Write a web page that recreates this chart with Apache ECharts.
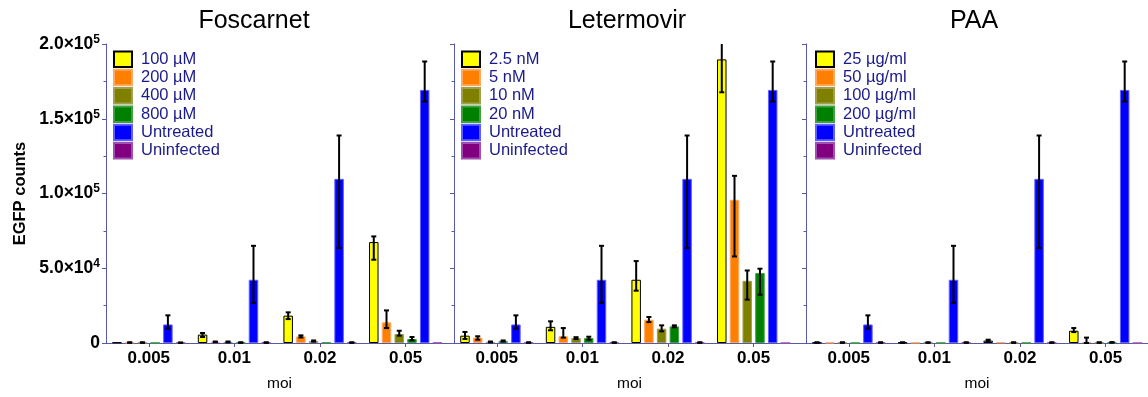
<!DOCTYPE html>
<html><head><meta charset="utf-8">
<script src="https://cdn.jsdelivr.net/npm/echarts@6/dist/echarts.min.js"></script>
<style>html,body{margin:0;padding:0;background:#fff}#c{width:1148px;height:397px}</style>
</head><body><div id="c"></div>
<script>
// ---------------- DATA ----------------
const categories = ['0.005', '0.01', '0.02', '0.05'];
const panelTitles = ['Foscarnet', 'Letermovir', 'PAA'];
const fosNames = ['100 µM', '200 µM', '400 µM', '800 µM', 'Untreated', 'Uninfected'];
const letNames = ['2.5 nM', '5 nM', '10 nM', '20 nM', 'Untreated', 'Uninfected'];
const paaNames = ['25 µg/ml', '50 µg/ml', '100 µg/ml', '200 µg/ml', 'Untreated', 'Uninfected'];

// Untreated control (shared by all panels)
const untreatedMean = [12400, 42300, 109800, 169300];
const untreatedLow  = [9600, 26700, 63500, 161500];
const untreatedHigh = [18500, 65000, 138800, 188300];

// Foscarnet: rows = 100, 200, 400, 800 µM, Untreated, Uninfected
const fosMean = [
  [400, 5600, 18300, 67500],
  [300, 800, 4400, 13800],
  [300, 700, 1300, 6000],
  [200, 300, 400, 2700],
  untreatedMean,
  [200, 300, 300, 200]
];
const fosLow = [
  [400, 4000, 16000, 55700],
  [100, 600, 3700, 10000],
  [100, 400, 900, 4900],
  [200, 100, 400, 1800],
  untreatedLow,
  [0, 100, 100, 200]
];
const fosHigh = [
  [400, 6700, 20500, 71300],
  [500, 1000, 5100, 21800],
  [500, 1000, 1700, 8200],
  [200, 500, 400, 4000],
  untreatedHigh,
  [400, 500, 500, 200]
];

// Letermovir: rows = 2.5, 5, 10, 20 nM, Untreated, Uninfected
const letMean = [
  [4900, 10800, 42300, 189700],
  [3600, 4500, 15600, 95800],
  [700, 3300, 9600, 41600],
  [1300, 3300, 11100, 46800],
  untreatedMean,
  [300, 300, 300, 0]
];
const letLow = [
  [2700, 8500, 35000, 167700],
  [2200, 3600, 14000, 57900],
  [400, 2700, 7800, 29000],
  [900, 2200, 10500, 32300],
  untreatedLow,
  [100, 100, 100, 0]
];
const letHigh = [
  [7400, 14500, 54800, 212000],
  [4500, 10000, 17400, 111800],
  [1000, 3900, 11800, 48500],
  [1700, 4200, 11800, 49700],
  untreatedHigh,
  [500, 500, 500, 0]
];

// PAA: rows = 25, 50, 100, 200 µg/ml, Untreated, Uninfected
const paaMean = [
  [300, 300, 1600, 8200],
  [200, 200, 400, 700],
  [300, 300, 300, 300],
  [100, 200, 200, 400],
  untreatedMean,
  [300, 300, 300, 0]
];
const paaLow = [
  [100, 100, 1000, 7300],
  [200, 200, 400, 0],
  [100, 100, 100, 100],
  [100, 200, 200, 200],
  untreatedLow,
  [100, 100, 100, 0]
];
const paaHigh = [
  [500, 500, 2200, 10000],
  [200, 200, 400, 3600],
  [500, 500, 500, 500],
  [100, 200, 200, 600],
  untreatedHigh,
  [500, 500, 500, 0]
];

const yTicks = [0, 50000, 100000, 150000, 200000];

// ---------------- STYLE / LAYOUT ----------------
const FF = "'Liberation Sans', Arial, Helvetica, sans-serif";
const colors  = ['#ffff00', '#ff8000', '#808000', '#008000', '#0000ff', '#800080'];
const borders = ['#000000', '#ffa860', '#a0a050', '#40a040', '#6060ff', '#a050b0'];
const AXIS_COLOR = '#5858a8';
const BW = 9.5, GAP = 0.34, STEP = BW * (1 + GAP);
const UNIT = 85.6;
const TOP = 44, H = 299.5, YMAX = yTicks[yTicks.length - 1];
const gridPos = [{left: 106, width: 347}, {left: 454, width: 351}, {left: 806, width: 342}];
const legendLeft = [113, 461, 815];
const titleX = [254, 627, 974];

const panels = [
  {names: fosNames, mean: fosMean, low: fosLow, high: fosHigh},
  {names: letNames, mean: letMean, low: letLow, high: letHigh},
  {names: paaNames, mean: paaMean, low: paaLow, high: paaHigh}
];

function errRender(params, api) {
  const x = api.value(0), lo = api.value(1), hiRaw = api.value(2), s = api.value(3);
  const hi = Math.min(hiRaw, YMAX);
  const off = (s - 2.5) * STEP;
  const pLo = api.coord([x, lo]);
  const pHi = api.coord([x, hi]);
  const cx = pLo[0] + off;
  const st = {stroke: '#000', lineWidth: 2};
  const kids = [
    {type: 'line', shape: {x1: cx, y1: pLo[1], x2: cx, y2: pHi[1]}, style: st},
    {type: 'line', shape: {x1: cx - 2.5, y1: pLo[1], x2: cx + 2.5, y2: pLo[1]}, style: st}
  ];
  if (hiRaw <= YMAX) kids.push({type: 'line', shape: {x1: cx - 2.5, y1: pHi[1], x2: cx + 2.5, y2: pHi[1]}, style: st});
  return {type: 'group', children: kids};
}

const grid = [], xAxis = [], yAxis = [], series = [], legend = [], title = [];
const tickVals = categories.map((c, i) => i + 0.5);

panels.forEach((p, pi) => {
  const g = gridPos[pi];
  grid.push({left: g.left, top: TOP, width: g.width, height: H, containLabel: false});
  xAxis.push({
    type: 'value', gridIndex: pi, min: 0, max: g.width / UNIT,
    axisLine: {show: true, onZero: false, lineStyle: {color: AXIS_COLOR, width: 1}},
    axisTick: {show: true, customValues: tickVals, length: 4, inside: false, lineStyle: {color: AXIS_COLOR}},
    axisLabel: {show: true, customValues: tickVals, margin: 7,
      formatter: v => categories[Math.round(v - 0.5)] || '',
      fontSize: 17, fontWeight: 'bold', color: '#000', fontFamily: FF},
    splitLine: {show: false},
    name: 'moi', nameLocation: 'middle', nameGap: 33,
    nameTextStyle: {fontSize: 15.5, color: '#000', fontFamily: FF}
  });
  yAxis.push({
    type: 'value', gridIndex: pi, min: yTicks[0], max: YMAX, interval: yTicks[1] - yTicks[0],
    axisLine: {show: true, lineStyle: {color: AXIS_COLOR, width: 1}},
    axisTick: {show: true, length: 4, inside: false, lineStyle: {color: AXIS_COLOR}},
    minorTick: {show: true, splitNumber: 2, length: 2.5, lineStyle: {color: AXIS_COLOR}},
    splitLine: {show: false}, minorSplitLine: {show: false},
    axisLabel: {show: pi === 0, margin: 6,
      formatter: v => {
        if (v === 0) return '{m|0}';
        const e = Math.floor(Math.log10(v));
        const m = v / Math.pow(10, e);
        return '{m|' + m.toFixed(1) + '×10}{s|' + e + '}';
      },
      rich: {
        m: {fontSize: 17.5, fontWeight: 'bold', color: '#000', fontFamily: FF},
        s: {fontSize: 12, fontWeight: 'bold', color: '#000', fontFamily: FF, padding: [0, 0, 9, 0]}
      }
    },
    name: pi === 0 ? 'EGFP counts' : '', nameLocation: 'middle', nameGap: 77,
    nameTextStyle: {fontSize: 16.5, fontWeight: 'bold', color: '#000', fontFamily: FF}
  });
  p.names.forEach((name, si) => {
    series.push({
      type: 'bar', name: name, xAxisIndex: pi, yAxisIndex: pi,
      barWidth: BW, barGap: (GAP * 100) + '%',
      itemStyle: {color: colors[si], borderColor: borders[si], borderWidth: 1},
      data: p.mean[si].map((v, ci) => [ci + 0.5, v])
    });
  });
  const errData = [];
  p.mean.forEach((row, si) => row.forEach((v, ci) => {
    if (p.high[si][ci] > p.low[si][ci]) errData.push([ci + 0.5, p.low[si][ci], p.high[si][ci], si]);
  }));
  series.push({type: 'custom', xAxisIndex: pi, yAxisIndex: pi, renderItem: errRender,
    data: errData, encode: {x: 0, y: [1, 2]}, z: 5, silent: true});
  legend.push({
    data: p.names, orient: 'vertical', left: legendLeft[pi], top: 50.5, padding: 0,
    itemWidth: 18, itemHeight: 15.5, itemGap: 0.8, icon: 'rect', selectedMode: false,
    textStyle: {fontSize: 16.5, color: '#1a1a8a', fontFamily: FF, lineHeight: 16, padding: [0, 0, 0, 4]}
  });
  title.push({text: panelTitles[pi], left: titleX[pi], top: 9, textAlign: 'center', padding: 0,
    textStyle: {fontSize: 25, fontWeight: 'normal', color: '#000', fontFamily: FF}});
});

const chart = echarts.init(document.getElementById('c'), null, {renderer: 'canvas'});
chart.setOption({
  animation: false, backgroundColor: '#fff',
  title, legend, grid, xAxis, yAxis, series
});
</script></body></html>
